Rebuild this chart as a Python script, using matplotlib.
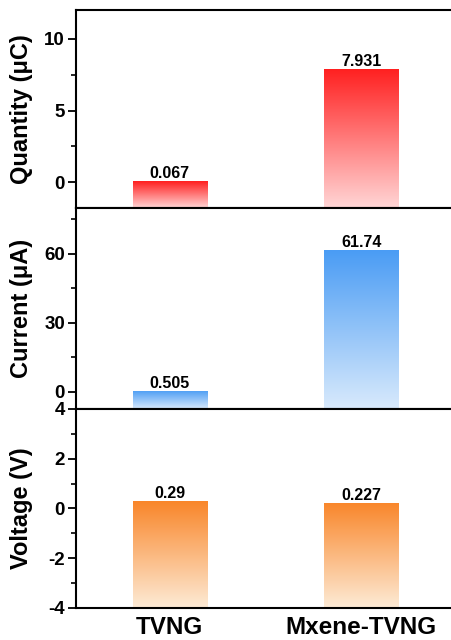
import numpy as np
import matplotlib.pyplot as plt
from matplotlib.colors import LinearSegmentedColormap

plt.rcParams['font.family'] = ['Liberation Sans', 'DejaVu Sans']
plt.rcParams['font.weight'] = 'bold'
plt.rcParams['axes.unicode_minus'] = False

# data
samples = ['TVNG', 'Mxene-TVNG']
quantity = [0.067, 7.931]
current = [0.505, 61.74]
voltage = [0.29, 0.227]
quantity_labels = ['0.067', '7.931']
current_labels = ['0.505', '61.74']
voltage_labels = ['0.29', '0.227']

fig = plt.figure(figsize=(4.51, 6.4), dpi=100)

#panel positions (left, bottom, width, height) in figure fraction
ax1 = fig.add_axes([0.1685, 0.675, 0.841, 0.309])
ax2 = fig.add_axes([0.1685, 0.361, 0.841, 0.314])
ax3 = fig.add_axes([0.1685, 0.050, 0.841, 0.311])

panels = [
    (ax1, quantity, quantity_labels, 'Quantity (μC)', (-1.8, 12), [0, 5, 10], 2.5,
     '#ff1f1f', '#ffd6d6'),
    (ax2, current, current_labels, 'Current (μA)', (-7.4, 80), [0, 30, 60], 15,
     '#4a9cf4', '#d9eafc'),
    (ax3, voltage, voltage_labels, 'Voltage (V)', (-4, 4), [-4, -2, 0, 2, 4], 1,
     '#f9862a', '#fdebd6'),
]

x = np.arange(1, len(samples) + 1)
width = 0.39

for ax, vals, labs, ylab, ylim, ticks, minor, top_col, bot_col in panels:
    base = ylim[0]
    cmap = LinearSegmentedColormap.from_list('g', [bot_col, top_col])
    grad = np.linspace(0, 1, 256).reshape(-1, 1)
    # bars start at the bottom of the axes, filled with a vertical gradient
    bars = ax.bar(x, np.array(vals) - base, width, bottom=base, color='none', edgecolor='none')
    for b, v, lab in zip(bars, vals, labs):
        im = ax.imshow(grad, cmap=cmap, origin='lower', aspect='auto',
                       extent=[b.get_x(), b.get_x() + b.get_width(), base, v], zorder=2)
        im.set_clip_path(b)
        ax.text(b.get_x() + b.get_width() / 2, v, lab, ha='center', va='bottom',
                fontsize=11.5, fontweight='bold')
    ax.set_xlim(0.51, 2.49)
    ax.set_ylim(*ylim)
    ax.set_yticks(ticks)
    ax.set_yticks(np.arange(ticks[0], ylim[1], minor), minor=True)
    ax.set_ylabel(ylab, fontsize=17, fontweight='bold')
    ax.yaxis.set_label_coords(-0.113, 0.5)
    ax.tick_params(axis='y', which='major', length=6, width=1.3, labelsize=13.5, pad=2)
    ax.tick_params(axis='y', which='minor', length=3.5, width=1.2)
    ax.tick_params(axis='x', length=0)
    for s in ax.spines.values():
        s.set_linewidth(1.5)

ax1.set_xticks([])
ax2.set_xticks([])
ax3.set_xticks(x)
ax3.set_xticklabels(samples, fontsize=17.5, fontweight='bold')
ax3.tick_params(axis='x', pad=6)

fig.savefig('out.png', dpi=100)
